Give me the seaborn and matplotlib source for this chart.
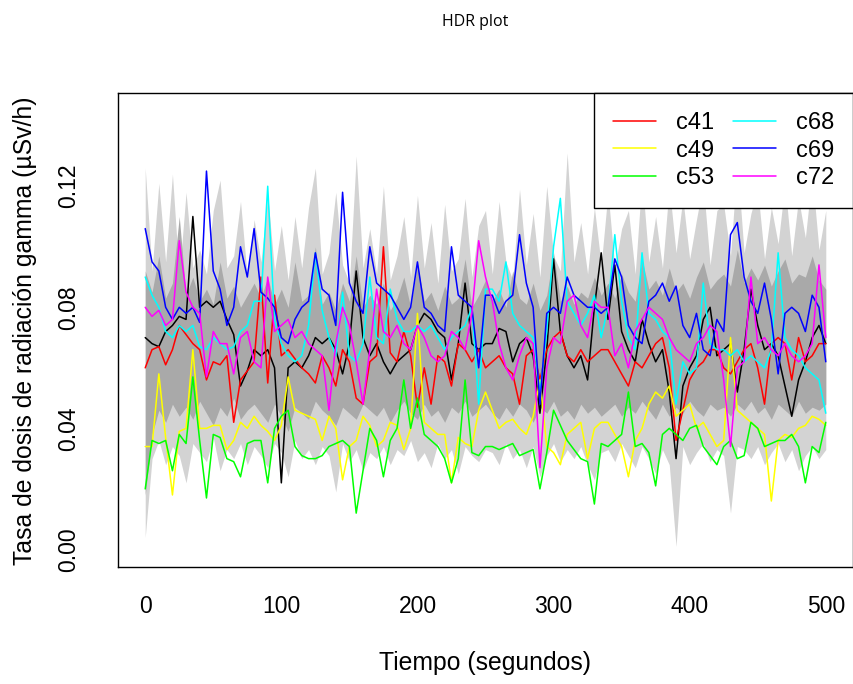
import numpy as np
import pandas as pd
import matplotlib
matplotlib.use("Agg")
import matplotlib.pyplot as plt
from matplotlib.lines import Line2D
import seaborn as sns

# ---------------- data (5 s resolution) ----------------
tiempo = list(range(0, 501, 5))

c69 = [0.106, 0.095, 0.092, 0.080, 0.076, 0.080, 0.078, 0.080, 0.075, 0.125, 0.092, 0.086, 0.074, 0.080, 0.100, 0.090, 0.106,
       0.085, 0.083, 0.080, 0.070, 0.068, 0.076, 0.080, 0.082, 0.098, 0.086, 0.084, 0.074, 0.118, 0.088, 0.082, 0.078, 0.100,
       0.088, 0.086, 0.084, 0.080, 0.076, 0.080, 0.095, 0.080, 0.078, 0.074, 0.072, 0.100, 0.084, 0.082, 0.080, 0.060, 0.084,
       0.084, 0.078, 0.082, 0.084, 0.104, 0.088, 0.080, 0.048, 0.078, 0.080, 0.078, 0.090, 0.084, 0.082, 0.080, 0.080, 0.078,
       0.080, 0.096, 0.090, 0.074, 0.070, 0.068, 0.082, 0.084, 0.088, 0.082, 0.087, 0.074, 0.070, 0.078, 0.066, 0.064, 0.076,
       0.072, 0.104, 0.108, 0.090, 0.082, 0.078, 0.088, 0.076, 0.058, 0.078, 0.080, 0.078, 0.072, 0.084, 0.080, 0.062]

c68 = [0.090, 0.084, 0.080, 0.072, 0.070, 0.074, 0.072, 0.074, 0.067, 0.066, 0.070, 0.068, 0.066, 0.067, 0.072, 0.074, 0.082,
       0.082, 0.120, 0.076, 0.068, 0.064, 0.062, 0.064, 0.074, 0.098, 0.079, 0.070, 0.064, 0.085, 0.064, 0.062, 0.068, 0.090,
       0.070, 0.068, 0.086, 0.076, 0.072, 0.072, 0.074, 0.072, 0.074, 0.070, 0.066, 0.070, 0.072, 0.074, 0.080, 0.048, 0.086,
       0.086, 0.082, 0.095, 0.078, 0.074, 0.072, 0.070, 0.052, 0.072, 0.100, 0.116, 0.082, 0.078, 0.074, 0.078, 0.084, 0.070,
       0.080, 0.104, 0.082, 0.070, 0.066, 0.098, 0.078, 0.076, 0.072, 0.070, 0.048, 0.062, 0.058, 0.060, 0.088, 0.068, 0.066,
       0.066, 0.064, 0.066, 0.062, 0.064, 0.062, 0.060, 0.066, 0.098, 0.070, 0.066, 0.064, 0.060, 0.058, 0.056, 0.045]

c72 = [0.080, 0.077, 0.079, 0.074, 0.076, 0.102, 0.085, 0.080, 0.078, 0.057, 0.072, 0.068, 0.068, 0.058, 0.070, 0.072, 0.062,
       0.060, 0.090, 0.072, 0.074, 0.076, 0.070, 0.072, 0.068, 0.066, 0.064, 0.046, 0.068, 0.080, 0.074, 0.062, 0.048, 0.066,
       0.086, 0.072, 0.070, 0.074, 0.068, 0.066, 0.074, 0.070, 0.064, 0.062, 0.064, 0.072, 0.070, 0.066, 0.078, 0.102, 0.090,
       0.082, 0.068, 0.060, 0.056, 0.064, 0.070, 0.068, 0.027, 0.060, 0.070, 0.068, 0.082, 0.084, 0.074, 0.070, 0.082, 0.080,
       0.080, 0.064, 0.068, 0.060, 0.072, 0.076, 0.080, 0.078, 0.076, 0.070, 0.066, 0.064, 0.062, 0.068, 0.070, 0.074, 0.072,
       0.056, 0.034, 0.060, 0.062, 0.090, 0.068, 0.070, 0.066, 0.064, 0.068, 0.064, 0.062, 0.064, 0.068, 0.094, 0.070]

c41 = [0.060, 0.066, 0.067, 0.061, 0.066, 0.074, 0.071, 0.068, 0.066, 0.056, 0.062, 0.061, 0.064, 0.042, 0.056, 0.059, 0.062,
       0.090, 0.055, 0.084, 0.064, 0.066, 0.063, 0.060, 0.058, 0.055, 0.064, 0.060, 0.054, 0.066, 0.062, 0.050, 0.048, 0.062,
       0.064, 0.100, 0.065, 0.062, 0.072, 0.064, 0.047, 0.060, 0.048, 0.064, 0.062, 0.054, 0.068, 0.066, 0.062, 0.066, 0.060,
       0.062, 0.064, 0.060, 0.058, 0.048, 0.064, 0.066, 0.056, 0.066, 0.070, 0.072, 0.064, 0.062, 0.066, 0.062, 0.064, 0.066,
       0.066, 0.062, 0.058, 0.054, 0.062, 0.060, 0.064, 0.068, 0.070, 0.060, 0.036, 0.046, 0.056, 0.060, 0.062, 0.066, 0.066,
       0.060, 0.058, 0.062, 0.066, 0.068, 0.060, 0.048, 0.068, 0.070, 0.068, 0.056, 0.070, 0.062, 0.064, 0.068, 0.068]

moda = [0.070, 0.068, 0.067, 0.072, 0.074, 0.077, 0.076, 0.110, 0.080, 0.082, 0.080, 0.082, 0.076, 0.071, 0.054, 0.059, 0.066,
        0.064, 0.066, 0.060, 0.022, 0.060, 0.062, 0.060, 0.064, 0.070, 0.068, 0.070, 0.066, 0.058, 0.068, 0.092, 0.070, 0.064,
        0.068, 0.062, 0.058, 0.062, 0.064, 0.066, 0.074, 0.078, 0.076, 0.072, 0.070, 0.056, 0.068, 0.088, 0.068, 0.066, 0.068,
        0.068, 0.073, 0.072, 0.062, 0.068, 0.070, 0.064, 0.045, 0.066, 0.096, 0.072, 0.064, 0.060, 0.064, 0.056, 0.080, 0.098,
        0.076, 0.094, 0.072, 0.066, 0.062, 0.076, 0.068, 0.062, 0.066, 0.052, 0.030, 0.054, 0.060, 0.064, 0.076, 0.080, 0.064,
        0.066, 0.068, 0.052, 0.066, 0.086, 0.074, 0.066, 0.068, 0.064, 0.054, 0.044, 0.056, 0.062, 0.070, 0.074, 0.068]

c49 = [0.034, 0.034, 0.058, 0.037, 0.018, 0.039, 0.040, 0.066, 0.040, 0.040, 0.041, 0.041, 0.033, 0.036, 0.042, 0.040, 0.044,
       0.041, 0.039, 0.036, 0.041, 0.057, 0.046, 0.045, 0.044, 0.043, 0.036, 0.044, 0.040, 0.023, 0.034, 0.036, 0.044, 0.041,
       0.034, 0.036, 0.042, 0.041, 0.033, 0.040, 0.078, 0.042, 0.040, 0.038, 0.038, 0.022, 0.037, 0.035, 0.034, 0.046, 0.052,
       0.046, 0.040, 0.042, 0.043, 0.040, 0.038, 0.044, 0.056, 0.034, 0.032, 0.028, 0.038, 0.040, 0.042, 0.030, 0.040, 0.042,
       0.042, 0.038, 0.034, 0.024, 0.036, 0.040, 0.048, 0.052, 0.050, 0.054, 0.044, 0.046, 0.048, 0.040, 0.042, 0.038, 0.034,
       0.036, 0.070, 0.046, 0.044, 0.042, 0.040, 0.038, 0.016, 0.036, 0.038, 0.037, 0.040, 0.041, 0.044, 0.043, 0.041]

c53 = [0.020, 0.036, 0.035, 0.036, 0.026, 0.038, 0.035, 0.057, 0.036, 0.017, 0.038, 0.037, 0.030, 0.029, 0.024, 0.035, 0.036,
       0.036, 0.022, 0.040, 0.044, 0.046, 0.034, 0.031, 0.030, 0.030, 0.031, 0.034, 0.035, 0.036, 0.034, 0.012, 0.026, 0.040,
       0.036, 0.024, 0.036, 0.040, 0.056, 0.040, 0.050, 0.038, 0.036, 0.034, 0.030, 0.022, 0.030, 0.056, 0.032, 0.031, 0.034,
       0.034, 0.033, 0.034, 0.035, 0.031, 0.032, 0.033, 0.020, 0.032, 0.046, 0.041, 0.036, 0.033, 0.030, 0.029, 0.015, 0.035,
       0.034, 0.036, 0.038, 0.052, 0.034, 0.035, 0.032, 0.021, 0.038, 0.040, 0.038, 0.036, 0.040, 0.041, 0.034, 0.031, 0.028,
       0.034, 0.036, 0.030, 0.031, 0.042, 0.040, 0.034, 0.035, 0.036, 0.036, 0.038, 0.034, 0.022, 0.034, 0.032, 0.042]

# highest density regions (outer = light gray, 50% = dark gray)
hdr_ext_sup = [0.126, 0.092, 0.121, 0.095, 0.124, 0.090, 0.118, 0.093, 0.099, 0.091, 0.112, 0.122, 0.093, 0.097, 0.115, 0.090, 0.109,
               0.095, 0.117, 0.092, 0.107, 0.089, 0.110, 0.093, 0.113, 0.126, 0.091, 0.098, 0.118, 0.094, 0.088, 0.130, 0.093, 0.106,
               0.091, 0.120, 0.089, 0.097, 0.110, 0.090, 0.117, 0.093, 0.108, 0.088, 0.114, 0.092, 0.096, 0.116, 0.090, 0.107, 0.112,
               0.091, 0.115, 0.095, 0.089, 0.119, 0.094, 0.111, 0.090, 0.120, 0.097, 0.092, 0.131, 0.095, 0.108, 0.091, 0.113, 0.094,
               0.118, 0.093, 0.106, 0.112, 0.091, 0.123, 0.095, 0.110, 0.093, 0.120, 0.098, 0.116, 0.096, 0.109, 0.121, 0.094, 0.112,
               0.114, 0.097, 0.128, 0.098, 0.111, 0.119, 0.096, 0.113, 0.101, 0.121, 0.097, 0.116, 0.103, 0.124, 0.099, 0.112]

hdr_50_sup = [0.092, 0.085, 0.097, 0.083, 0.088, 0.110, 0.084, 0.090, 0.082, 0.086, 0.081, 0.095, 0.083, 0.087, 0.080, 0.084, 0.088,
              0.083, 0.090, 0.081, 0.086, 0.080, 0.095, 0.082, 0.084, 0.100, 0.081, 0.085, 0.079, 0.088, 0.082, 0.097, 0.080, 0.084,
              0.081, 0.088, 0.079, 0.083, 0.090, 0.080, 0.094, 0.082, 0.085, 0.079, 0.087, 0.081, 0.083, 0.096, 0.080, 0.084, 0.089,
              0.082, 0.086, 0.080, 0.092, 0.083, 0.081, 0.088, 0.079, 0.084, 0.098, 0.082, 0.087, 0.081, 0.085, 0.083, 0.090, 0.084,
              0.088, 0.083, 0.091, 0.085, 0.082, 0.096, 0.086, 0.089, 0.084, 0.093, 0.085, 0.088, 0.083, 0.090, 0.095, 0.086, 0.089,
              0.091, 0.087, 0.099, 0.088, 0.093, 0.089, 0.094, 0.087, 0.092, 0.096, 0.088, 0.091, 0.090, 0.097, 0.089, 0.086]

hdr_50_inf = [0.018, 0.038, 0.046, 0.042, 0.048, 0.044, 0.047, 0.043, 0.049, 0.045, 0.041, 0.047, 0.044, 0.050, 0.043, 0.046, 0.048,
              0.045, 0.042, 0.048, 0.044, 0.039, 0.047, 0.045, 0.043, 0.049, 0.046, 0.044, 0.041, 0.047, 0.045, 0.043, 0.048, 0.046,
              0.044, 0.047, 0.042, 0.046, 0.049, 0.045, 0.043, 0.048, 0.044, 0.046, 0.042, 0.047, 0.045, 0.049, 0.044, 0.046, 0.048,
              0.045, 0.043, 0.047, 0.044, 0.048, 0.046, 0.042, 0.047, 0.045, 0.049, 0.044, 0.046, 0.043, 0.048, 0.045, 0.047, 0.044,
              0.046, 0.048, 0.044, 0.047, 0.045, 0.049, 0.046, 0.043, 0.048, 0.044, 0.047, 0.045, 0.049, 0.046, 0.044, 0.048, 0.046,
              0.047, 0.044, 0.048, 0.046, 0.049, 0.045, 0.047, 0.043, 0.048, 0.046, 0.044, 0.049, 0.045, 0.047, 0.046, 0.048]

hdr_ext_inf = [0.004, 0.030, 0.036, 0.028, 0.034, 0.031, 0.022, 0.035, 0.032, 0.029, 0.037, 0.026, 0.033, 0.030, 0.035, 0.028, 0.034,
               0.031, 0.027, 0.035, 0.032, 0.024, 0.036, 0.030, 0.033, 0.028, 0.034, 0.031, 0.019, 0.035, 0.029, 0.033, 0.026, 0.032,
               0.030, 0.034, 0.028, 0.033, 0.031, 0.036, 0.029, 0.032, 0.027, 0.035, 0.030, 0.033, 0.025, 0.034, 0.031, 0.029, 0.033,
               0.032, 0.028, 0.035, 0.030, 0.033, 0.027, 0.034, 0.024, 0.031, 0.035, 0.029, 0.033, 0.030, 0.034, 0.028, 0.023, 0.032,
               0.033, 0.029, 0.035, 0.031, 0.027, 0.034, 0.030, 0.025, 0.033, 0.028, 0.001, 0.034, 0.028, 0.032, 0.035, 0.029, 0.033,
               0.031, 0.012, 0.034, 0.033, 0.030, 0.034, 0.028, 0.032, 0.035, 0.029, 0.033, 0.026, 0.031, 0.034, 0.030, 0.033]

nombres = ["c41", "c49", "c53", "c68", "c69", "c72"]
colores = ["#ff0000", "#ffff00", "#00ff00", "#00ffff", "#0000ff", "#ff00ff"]
series = [c41, c49, c53, c68, c69, c72]

titulo = "HDR plot"
etiqueta_x = "Tiempo (segundos)"
etiqueta_y = "Tasa de dosis de radiación gamma (µSv/h)"

# ---------------- figure ----------------
sns.set_style("white")
plt.rcParams["font.family"] = ["Liberation Sans", "DejaVu Sans"]
plt.rcParams["text.color"] = "black"
plt.rcParams["axes.labelcolor"] = "black"
plt.rcParams["xtick.color"] = "black"
plt.rcParams["ytick.color"] = "black"

fig = plt.figure(figsize=(8.54, 6.84), dpi=100)
W, H = 854, 684
ax = fig.add_axes([118 / W, 1 - 567 / H, (853 - 118) / W, (567 - 93) / H])

ax.fill_between(tiempo, hdr_ext_inf, hdr_ext_sup, color="#d3d3d3", linewidth=0, zorder=1)
ax.fill_between(tiempo, hdr_50_inf, hdr_50_sup, color="#a9a9a9", linewidth=0, zorder=2)

df_moda = pd.DataFrame({"t": tiempo, "v": moda})
sns.lineplot(data=df_moda, x="t", y="v", color="black", linewidth=1.1,
             estimator=None, sort=False, ax=ax, zorder=3)

df = pd.concat([pd.DataFrame({"t": tiempo, "v": s, "serie": n}) for n, s in zip(nombres, series)],
               ignore_index=True)
sns.lineplot(data=df, x="t", y="v", hue="serie", hue_order=nombres,
             palette=dict(zip(nombres, colores)), linewidth=1.1,
             estimator=None, sort=False, legend=False, ax=ax, zorder=4)

ax.set_xlim(-20, 520)
ax.set_ylim(-0.0058, 0.1508)

ax.set_xticks([0, 100, 200, 300, 400, 500])
ax.set_xticklabels(["0", "100", "200", "300", "400", "500"])
yt = [0.00, 0.02, 0.04, 0.06, 0.08, 0.10, 0.12, 0.14]
ax.set_yticks(yt)
ax.set_yticklabels(["0.00", "", "0.04", "", "0.08", "", "0.12", ""],
                   rotation=90, va="center")

ax.tick_params(axis="both", which="major", direction="out", length=10,
               width=0.8, color="black", labelsize=16.5, labelcolor="black")
ax.tick_params(axis="x", pad=10)
ax.tick_params(axis="y", pad=17)

for sp in ax.spines.values():
    sp.set_visible(True)
    sp.set_color("black")
    sp.set_linewidth(1.0)

ax.set_xlabel("")
ax.set_ylabel("")
fig.text(485 / W, 1 - 663 / H, etiqueta_x, ha="center", va="center", fontsize=17.8, color="black")
fig.text(25 / W, 1 - 331 / H, etiqueta_y, ha="center", va="center", fontsize=17.8,
         rotation=90, color="black")
fig.text(475 / W, 1 - 22 / H, titulo, ha="center", va="center", fontsize=11.5,
         family=["Open Sans", "DejaVu Sans"], color="black")

handles = [Line2D([0], [0], color=c, linewidth=1.1) for c in colores]
leg = ax.legend(handles, nombres, loc="upper right", ncol=2, fontsize=17,
                frameon=True, fancybox=False, shadow=False, borderaxespad=0,
                handlelength=1.82, handletextpad=0.85, columnspacing=0.8,
                labelspacing=0.24, borderpad=0.8)
leg.get_frame().set_edgecolor("black")
leg.get_frame().set_linewidth(1.0)
leg.get_frame().set_facecolor("white")
leg.get_frame().set_alpha(1)
for txt in leg.get_texts():
    txt.set_color("black")
leg.set_zorder(10)

fig.savefig("out.png", dpi=100)
